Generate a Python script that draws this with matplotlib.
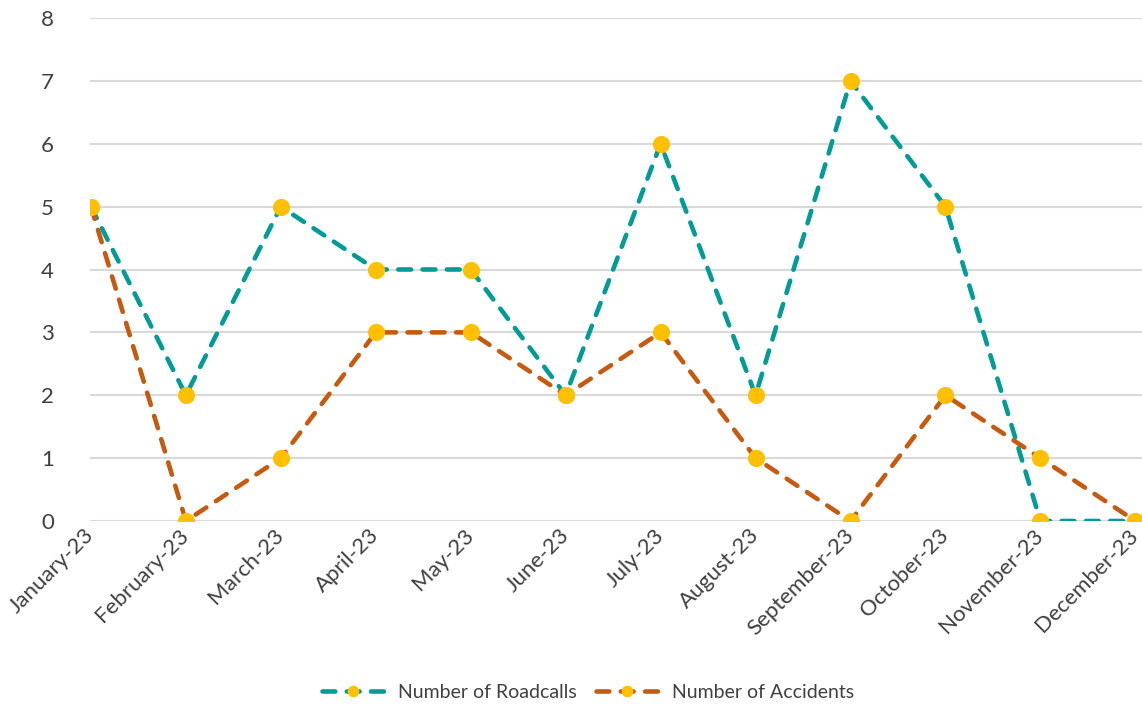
import matplotlib
matplotlib.use("Agg")
import matplotlib.pyplot as plt
import numpy as np

months = ["January-23", "February-23", "March-23", "April-23", "May-23", "June-23",
          "July-23", "August-23", "September-23", "October-23", "November-23", "December-23"]
roadcalls = [5, 2, 5, 4, 4, 2, 6, 2, 7, 5, 0, 0]
accidents = [5, 0, 1, 3, 3, 2, 3, 1, 0, 2, 1, 0]

TEAL = "#009B95"
ORANGE = "#C55A11"
GOLD = "#FFC000"
TXT = "#404040"

plt.rcParams["font.family"] = ["Lato", "DejaVu Sans"]

fig = plt.figure(figsize=(11.42, 7.06), dpi=100)
ax = fig.add_axes([90 / 1142, 185 / 706, 1052 / 1142, 503 / 706])

x = np.arange(len(months))
line_kw = dict(linewidth=3.3, dashes=(2.8, 2.5), dash_capstyle="round",
               marker="o", markersize=11.3, markerfacecolor=GOLD,
               markeredgecolor=GOLD, zorder=3)
ax.plot(x, roadcalls, color=TEAL, label="Number of Roadcalls", **line_kw)
ax.plot(x, accidents, color=ORANGE, label="Number of Accidents", **line_kw)

ax.set_xlim(-0.01, 11.07)
ax.set_ylim(0, 8)
ax.set_yticks(range(0, 9))
ax.yaxis.grid(True, color="#D9D9D9", linewidth=1.5)
ax.set_axisbelow(True)
for s in ax.spines.values():
    s.set_visible(False)
ax.tick_params(length=0, labelsize=16, colors=TXT)
ax.tick_params(axis="y", pad=26)
ax.tick_params(axis="x", pad=8)
ax.set_xticks(x)
ax.set_xticklabels(months, rotation=45, ha="right", va="center",
                   rotation_mode="anchor", fontsize=16)

# legend centred under the plot area
fig.legend(loc="center", bbox_to_anchor=(588 / 1142, 1 - 692 / 706), ncol=2, frameon=False,
           fontsize=14, labelcolor=TXT, handlelength=3.2, markerscale=0.65,
           columnspacing=1.0, handletextpad=0.7)

fig.savefig("out.png", dpi=100)
